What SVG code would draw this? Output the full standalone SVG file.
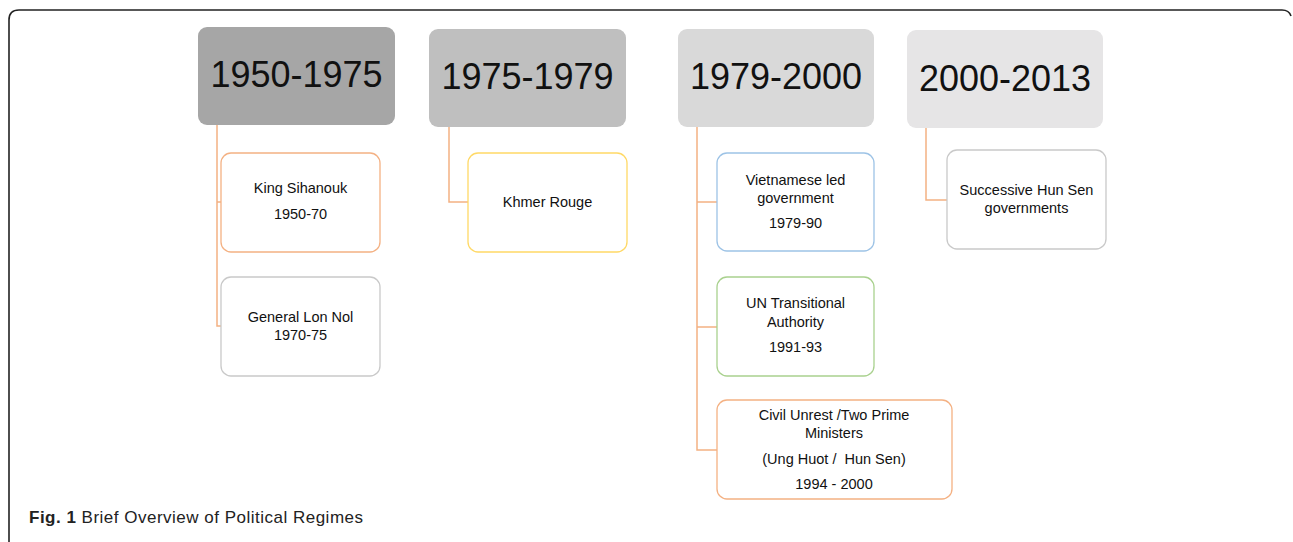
<svg xmlns="http://www.w3.org/2000/svg" width="1293" height="542" viewBox="0 0 1293 542">
<style>
.hdr{font-family:"Liberation Sans",Arial,sans-serif;font-size:36px;fill:#111;text-anchor:middle}
.t{font-family:"Liberation Sans",Arial,sans-serif;font-size:14.5px;fill:#111;text-anchor:middle}
.box{fill:#fff;stroke-width:1.3}
.conn{fill:none;stroke:#f4b183;stroke-width:1.5}
.cap{font-family:"Liberation Sans",Arial,sans-serif;font-size:17px;fill:#222}
</style>
<rect width="1293" height="542" fill="#fff"/>
<path d="M9,542 L9,20 Q9,10 19,10 L1282,10 Q1289,10 1291,16" fill="none" stroke="#222" stroke-width="1.6"/>
<g id="connectors">
<path class="conn" d="M217,125 L217,326 L221,326 M217,202 L221,202"/>
<path class="conn" d="M449,127 L449,202 L468,202"/>
<path class="conn" d="M697,127 L697,450 L717,450 M697,202 L717,202 M697,327 L717,327"/>
<path class="conn" d="M926,128 L926,200 L947,200"/>
</g>
<g id="h1"><rect x="198" y="27" width="197" height="98" rx="9" fill="#a6a6a6"/><text class="hdr" x="296.5" y="87">1950-1975</text></g>
<g id="h2"><rect x="429" y="29" width="197" height="98" rx="9" fill="#bfbfbf"/><text class="hdr" x="527.5" y="89">1975-1979</text></g>
<g id="h3"><rect x="678" y="29" width="196" height="98" rx="9" fill="#d9d9d9"/><text class="hdr" x="776" y="89">1979-2000</text></g>
<g id="h4"><rect x="907" y="30" width="196" height="98" rx="9" fill="#e6e5e6"/><text class="hdr" x="1005" y="91">2000-2013</text></g>
<g id="n1"><rect class="box" x="221" y="153" width="159" height="99" rx="10" stroke="#f4b183"/><text class="t" x="300.5" y="193">King Sihanouk</text><text class="t" x="300.5" y="219">1950-70</text></g>
<g id="n2"><rect class="box" x="221" y="277" width="159" height="99" rx="10" stroke="#c9c9c9"/><text class="t" x="300.5" y="322">General Lon Nol</text><text class="t" x="300.5" y="340">1970-75</text></g>
<g id="n3"><rect class="box" x="468" y="153" width="159" height="99" rx="10" stroke="#ffd966"/><text class="t" x="547.5" y="207">Khmer Rouge</text></g>
<g id="n4"><rect class="box" x="717" y="153" width="157" height="98" rx="10" stroke="#9dc3e6"/><text class="t" x="795.5" y="185">Vietnamese led</text><text class="t" x="795.5" y="203">government</text><text class="t" x="795.5" y="228">1979-90</text></g>
<g id="n5"><rect class="box" x="717" y="277" width="157" height="99" rx="10" stroke="#a9d18e"/><text class="t" x="795.5" y="308">UN Transitional</text><text class="t" x="795.5" y="327">Authority</text><text class="t" x="795.5" y="352">1991-93</text></g>
<g id="n6"><rect class="box" x="717" y="400" width="235" height="99" rx="10" stroke="#f4b183"/><text class="t" x="834" y="420">Civil Unrest /Two Prime</text><text class="t" x="834" y="438">Ministers</text><text class="t" x="834" y="464" xml:space="preserve">(Ung Huot /  Hun Sen)</text><text class="t" x="834" y="489">1994 - 2000</text></g>
<g id="n7"><rect class="box" x="947" y="150" width="159" height="99" rx="10" stroke="#c9c9c9"/><text class="t" x="1026.5" y="195">Successive Hun Sen</text><text class="t" x="1026.5" y="213">governments</text></g>
<text class="cap" x="29" y="523" textLength="334" lengthAdjust="spacing"><tspan font-weight="bold">Fig. 1</tspan> Brief Overview of Political Regimes</text>
</svg>
